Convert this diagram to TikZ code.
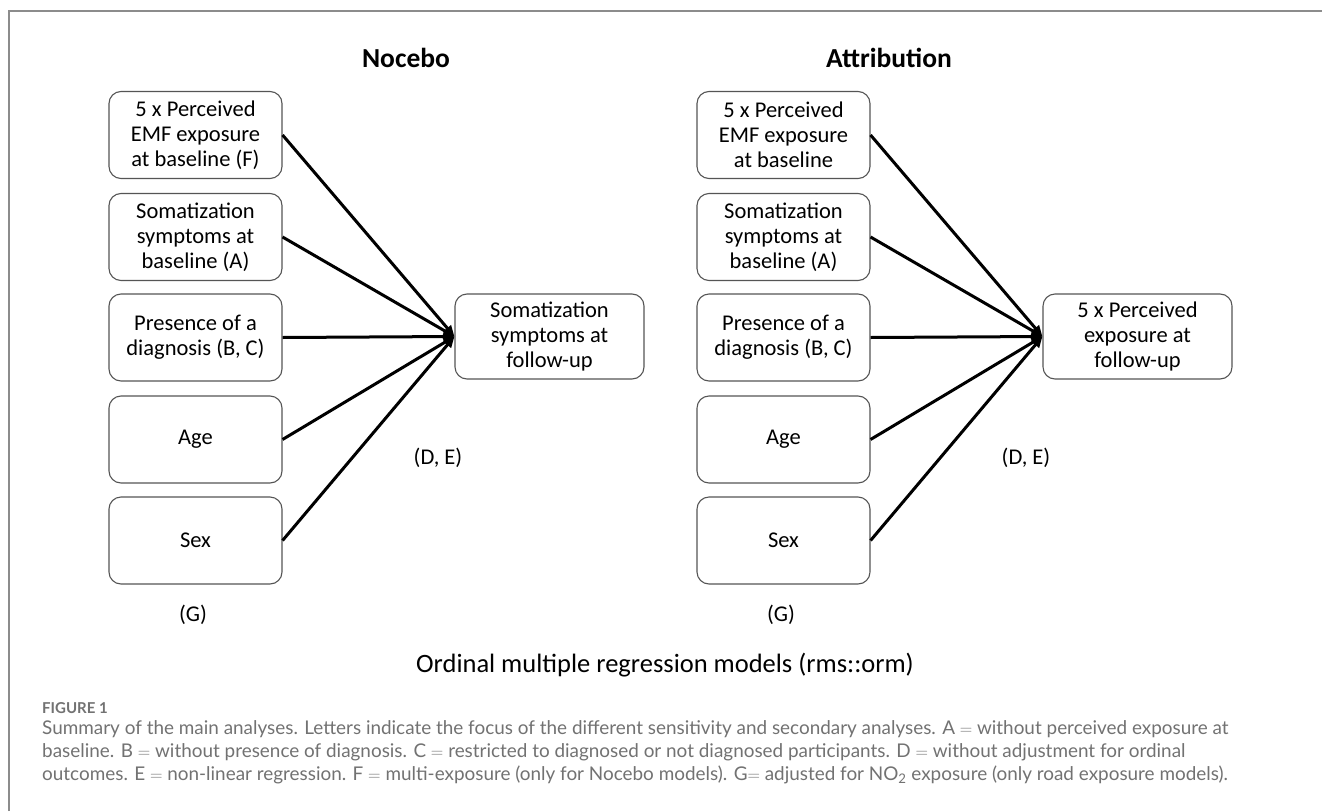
\documentclass[tikz,border=0pt]{standalone}
\usepackage{fontspec}
\setmainfont{Carlito}
\newfontfamily\capfont{Lato}
\usetikzlibrary{arrows.meta}
\definecolor{framegray}{HTML}{8C8C8C}
\definecolor{boxgray}{HTML}{555555}
\definecolor{capgray}{HTML}{727272}
\begin{document}
\begin{tikzpicture}[x=1pt,y=-1pt,
  varbox/.style={draw=boxgray, line width=1.1pt, rounded corners=12pt,
    minimum width=173pt, minimum height=87pt, align=center, inner sep=0pt,
    font=\fontsize{22.5}{25}\selectfont},
  outbox/.style={varbox, minimum width=189pt, minimum height=85pt},
  title/.style={font=\fontsize{27.5}{30}\selectfont\bfseries},
  lbl/.style={font=\fontsize{22.5}{25}\selectfont},
  conn/.style={line width=3pt, black, -{Triangle[length=11pt,width=9pt]}},
  captext/.style={font=\capfont\fontsize{18.9}{23}\selectfont, text=capgray, align=left, anchor=north west, inner sep=0pt}
]
\useasboundingbox (0,0) rectangle (1322,811);
\fill[white] (0,0) rectangle (1322,811);
\coordinate (fbl) at (9,811);
\coordinate (ftl) at (9,11);
\coordinate (ftr) at (1322,11);
\draw[framegray, line width=1.8pt] (fbl) -- (ftl) -- (ftr);

% Nocebo
\node[title] (tN) at (406,58) {Nocebo};
\node[varbox] (n1) at (195.5,135) {5 x Perceived\\EMF exposure\\at baseline (F)};
\node[varbox] (n2) at (195.5,237) {Somatization\\symptoms at\\baseline (A)};
\node[varbox] (n3) at (195.5,337.5) {Presence of a\\diagnosis (B, C)};
\node[varbox] (n4) at (195.5,439.5) {Age};
\node[varbox] (n5) at (195.5,540.5) {Sex};
\node[outbox] (nt) at (549.5,336.5) {Somatization\\symptoms at\\follow-up};
\node[lbl] (nDE) at (438,458) {(D, E)};
\node[lbl] (nG) at (193,615) {(G)};
\foreach \i in {1,...,5} \draw[conn] (n\i.east) -- (nt.west);

% Attribution
\node[title] (tA) at (889,58) {Attribution};
\node[varbox] (a1) at (783.5,135) {5 x Perceived\\EMF exposure\\at baseline};
\node[varbox] (a2) at (783.5,237) {Somatization\\symptoms at\\baseline (A)};
\node[varbox] (a3) at (783.5,337.5) {Presence of a\\diagnosis (B, C)};
\node[varbox] (a4) at (783.5,439.5) {Age};
\node[varbox] (a5) at (783.5,540.5) {Sex};
\node[outbox] (at) at (1137.5,336.5) {5 x Perceived\\exposure at\\follow-up};
\node[lbl] (aDE) at (1026,458) {(D, E)};
\node[lbl] (aG) at (781,615) {(G)};
\foreach \i in {1,...,5} \draw[conn] (a\i.east) -- (at.west);

\node[font=\fontsize{26.5}{30}\selectfont] (ord) at (665,665) {Ordinal multiple regression models (rms::orm)};

% caption
\node[font=\capfont\bfseries\fontsize{15}{18}\selectfont, text=capgray, anchor=west, inner sep=0pt] (fig) at (42,708) {FIGURE 1};
\node[captext] (cap) at (42,720) {Summary of the main analyses. Letters indicate the focus of the different sensitivity and secondary analyses. A $=$ without perceived exposure at\\
baseline. B $=$ without presence of diagnosis. C $=$ restricted to diagnosed or not diagnosed participants. D $=$ without adjustment for ordinal\\
outcomes. E $=$ non-linear regression. F $=$ multi-exposure (only for Nocebo models). G$=$ adjusted for NO\textsubscript{2} exposure (only road exposure models).};
\end{tikzpicture}
\end{document}
